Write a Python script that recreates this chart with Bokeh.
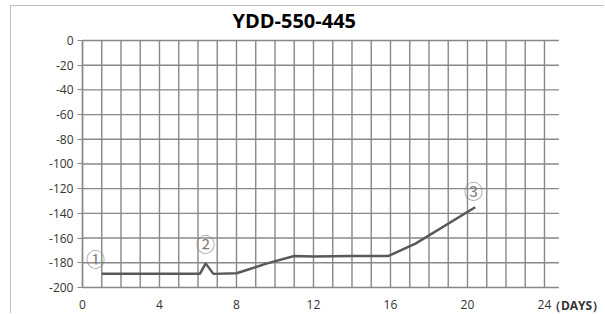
from bokeh.plotting import figure
from bokeh.models import FixedTicker, Range1d, Label, ColumnDataSource
from bokeh.core.properties import value
from bokeh.embed import file_html
from bokeh.resources import INLINE

# data
days = [1, 6.1, 6.4, 6.8, 8, 8.7, 9.6, 11, 12, 14, 15.9, 17.3, 20.4]
depth = [-189, -189, -180.5, -189, -188.5, -185, -180.5, -174.5, -175, -174.5, -174.5, -164.5, -135]
marker_labels = ["①", "②", "③"]
marker_x = [0.68, 6.39, 20.31]
marker_y = [-176.8, -164.6, -121.5]
x_ticks = [0, 4, 8, 12, 16, 20, 24]
y_ticks = [0, -20, -40, -60, -80, -100, -120, -140, -160, -180, -200]
grid_days = list(range(0, 25))
title_text = "YDD-550-445"
x_unit = "（DAYS）"

FONT = "Open Sans"
GRID = "#888888"
X_END = 24.75          # right end of the gridded area
Y_LO, Y_HI = min(y_ticks), max(y_ticks)

p = figure(width=594, height=308, output_backend="svg", toolbar_location=None,
           x_range=Range1d(-3.688, 27.17), y_range=Range1d(-221.9, 27.53),
           min_border_left=0, min_border_right=0, min_border_top=0, min_border_bottom=0)
p.styles = {"margin-left": "10px", "margin-top": "5px",
            "border-left": "1px solid #c0c0c0", "border-top": "1px solid #c0c0c0"}
p.title.text = ""
p.title.visible = False

p.outline_line_color = None
p.background_fill_color = "white"
p.grid.visible = False

# grid drawn over the chart area only
p.segment(x0=grid_days, y0=[Y_LO] * len(grid_days), x1=grid_days, y1=[Y_HI] * len(grid_days),
          line_color=GRID, line_width=1.4)
p.segment(x0=[0] * len(y_ticks), y0=y_ticks, x1=[X_END] * len(y_ticks), y1=y_ticks,
          line_color=GRID, line_width=1.4)

p.xaxis.ticker = FixedTicker(ticks=x_ticks)
p.xaxis.fixed_location = Y_LO
p.xaxis.axis_line_color = None
p.xaxis.major_tick_line_color = None
p.xaxis.minor_tick_line_color = None
p.xaxis.major_label_standoff = 7

p.yaxis.ticker = FixedTicker(ticks=y_ticks)
p.yaxis.fixed_location = 0
p.yaxis.bounds = (Y_LO, Y_HI)
p.yaxis.major_label_overrides = {t: str(t) for t in y_ticks}
p.yaxis.axis_line_color = GRID
p.yaxis.axis_line_width = 1.4
p.yaxis.major_tick_line_color = GRID
p.yaxis.major_tick_out = 5
p.yaxis.major_tick_in = 0
p.yaxis.minor_tick_line_color = None
p.yaxis.major_label_standoff = 4
for ax in (p.xaxis, p.yaxis):
    ax.major_label_text_font = FONT
    ax.major_label_text_font_size = "12px"
    ax.major_label_text_color = "#333333"

p.line(days, depth, line_color="#595959", line_width=2.5)

src = ColumnDataSource(dict(x=marker_x, y=marker_y, t=marker_labels))
p.text(x="x", y="y", text="t", source=src, text_align="center", text_baseline="middle",
       text_font=value("Noto Sans CJK SC"), text_font_size="19px", text_color="#7f7f7f")

# chart title
p.add_layout(Label(x=7.79, y=15.8, text=title_text,
                   text_align="left", text_baseline="middle",
                   text_font=FONT, text_font_size="20px", text_font_style="bold",
                   text_color="#000000"))

p.add_layout(Label(x=27.1, y=-214.6, text=x_unit,
                   text_align="right", text_baseline="middle",
                   text_font=FONT, text_font_size="12px", text_font_style="bold",
                   text_color="#333333"))

open("out.html", "w").write(file_html(p, INLINE))
